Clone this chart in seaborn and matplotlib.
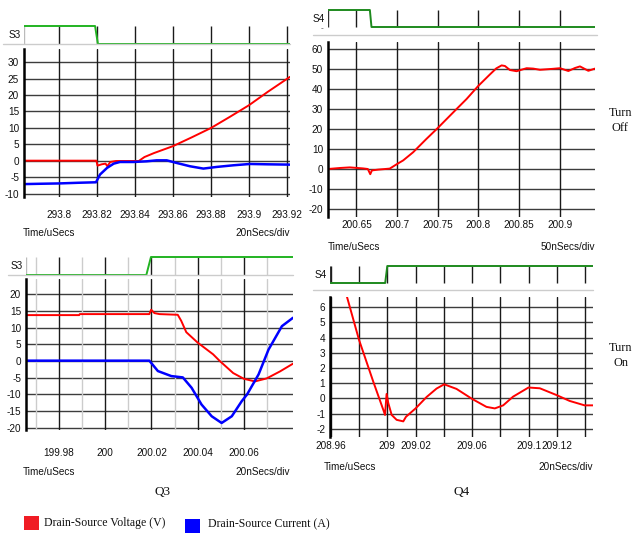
import matplotlib
matplotlib.use("Agg")
import matplotlib.pyplot as plt
import seaborn as sns
from matplotlib.lines import Line2D
from matplotlib.patches import Rectangle

# ---------------- data ----------------
# Q3 turn-off
q3off_v_t = [293.7816, 293.8197, 293.8203, 293.8225, 293.8245, 293.8255, 293.8270, 293.8300,
             293.8420, 293.8450, 293.8500, 293.8600, 293.8700, 293.8800, 293.8900, 293.9000,
             293.9100, 293.9216]
q3off_v = [0.1, 0.1, -1.4, -1.0, -0.8, -1.6, -0.3, 0.0,
           0.0, 1.2, 2.4, 4.5, 7.2, 10.0, 13.4, 16.9, 21.0, 25.5]
q3off_i_t = [293.7816, 293.7900, 293.8000, 293.8100, 293.8195, 293.8216, 293.8253, 293.8288,
             293.8321, 293.8391, 293.8460, 293.8514, 293.8567, 293.8620, 293.8690, 293.8760,
             293.8830, 293.8918, 293.9005, 293.9093, 293.9216]
q3off_i = [-7.0, -6.9, -6.8, -6.6, -6.45, -4.1, -2.1, -0.8,
           -0.3, -0.3, -0.1, 0.2, 0.2, -0.6, -1.6, -2.3,
           -1.8, -1.3, -0.9, -1.0, -1.1]
s3off_t = [293.7816, 293.8190, 293.8205, 293.9216]
s3off = [1, 1, 0, 0]

# Q4 turn-off
q4off_v_t = [200.615, 200.6295, 200.6418, 200.658, 200.664, 200.667, 200.669, 200.677,
             200.691, 200.700, 200.7075, 200.7198, 200.736, 200.7498, 200.761, 200.7732,
             200.7855, 200.7998, 200.814, 200.822, 200.8286, 200.8327, 200.8388, 200.847,
             200.8594, 200.8675, 200.8758, 200.8922, 200.9004, 200.9107, 200.9189, 200.925,
             200.9353, 200.9435]
q4off_v = [0.0, 0.5, 0.8, 0.3, 0.0, -2.6, -0.7, -0.3,
           0.2, 2.5, 4.3, 8.4, 15.0, 20.4, 25.0, 30.0,
           35.0, 41.5, 47.2, 50.3, 51.8, 51.5, 49.5, 48.9,
           50.4, 50.2, 49.6, 50.1, 50.4, 49.0, 50.5, 51.3,
           49.1, 50.2]
s4off_t = [200.615, 200.6665, 200.6685, 200.9435]
s4off = [1, 1, 0, 0]

# Q3 turn-on
q3on_v_t = [199.9657, 199.9887, 199.9890, 200.0191, 200.0199, 200.0213, 200.0235, 200.0314,
            200.0329, 200.0351, 200.0400, 200.0467, 200.0496, 200.0554, 200.0600, 200.0648,
            200.0699, 200.0757, 200.0813]
q3on_v = [13.7, 13.7, 14.0, 14.0, 15.3, 14.3, 14.0, 13.8,
          12.0, 8.6, 5.5, 2.0, 0.0, -3.6, -5.3, -6.1,
          -5.2, -3.1, -0.8]
q3on_i_t = [199.9657, 200.0191, 200.0228, 200.0286, 200.0336, 200.0374, 200.0417, 200.0461,
            200.0504, 200.0548, 200.0591, 200.0614, 200.0664, 200.0707, 200.0765, 200.0813]
q3on_i = [0.1, 0.1, -3.0, -4.5, -4.9, -8.0, -13.0, -16.5,
          -18.5, -16.5, -12.0, -10.0, -4.0, 3.4, 10.4, 12.9]
s3on_t = [199.9657, 200.0178, 200.0198, 200.0813]
s3on = [0, 0, 1, 1]

# Q4 turn-on
q4on_v_t = [208.9708, 208.9800, 208.9901, 208.9972, 208.9984, 208.9995, 209.0007, 209.0031,
            209.0066, 209.0113, 209.0132, 209.0200, 209.0278, 209.0348, 209.0402, 209.0489,
            209.0600, 209.0701, 209.0760, 209.0819, 209.0889, 209.0998, 209.1078, 209.1195,
            209.1289, 209.1395, 209.1454]
q4on_v = [6.9, 3.85, 1.1, -0.75, -1.08, 0.3, -0.3, -1.08,
          -1.4, -1.5, -1.2, -0.65, 0.1, 0.65, 0.93, 0.63,
          -0.03, -0.55, -0.65, -0.45, 0.12, 0.72, 0.67, 0.23,
          -0.16, -0.45, -0.45]
s4on_t = [208.96, 208.9985, 209.0, 209.1454]
s4on = [0, 0, 1, 1]

# axis ticks and labels
p1_xticks = [293.80, 293.82, 293.84, 293.86, 293.88, 293.90, 293.92]
p1_xlabels = ["293.8", "293.82", "293.84", "293.86", "293.88", "293.9", "293.92"]
p1_yticks = [-10, -5, 0, 5, 10, 15, 20, 25, 30]

p2_xticks = [200.65, 200.70, 200.75, 200.80, 200.85, 200.90]
p2_xlabels = ["200.65", "200.7", "200.75", "200.8", "200.85", "200.9"]
p2_yticks = [-20, -10, 0, 10, 20, 30, 40, 50, 60]

p3_xticks = [199.98, 200.00, 200.02, 200.04, 200.06]
p3_xlabels = ["199.98", "200", "200.02", "200.04", "200.06"]
p3_xminor = [199.97, 199.99, 200.01, 200.03, 200.05, 200.07]
p3_yticks = [-20, -15, -10, -5, 0, 5, 10, 15, 20]

p4_xticks = [208.96, 208.98, 209.00, 209.02, 209.04, 209.06, 209.08, 209.10, 209.12, 209.14]
p4_xlabels = ["208.96", "", "209", "209.02", "", "209.06", "", "209.1", "209.12", ""]
p4_yticks = [-2, -1, 0, 1, 2, 3, 4, 5, 6]

legend_labels = ["Drain-Source Voltage (V)", "Drain-Source Current (A)"]

# ---------------- style ----------------
sns.set_theme(style="white")
plt.rcParams['font.family'] = ['Liberation Sans', 'DejaVu Sans']
plt.rcParams['axes.unicode_minus'] = False

RED = "#ff0000"
BLUE = "#0000ff"
GREEN_A = "#22b322"
GREEN_B = "#1e8a1e"
HGRID = "#3c3c3c"
VGRID = "#1a1a1a"
LIGHT = "#cccccc"
TXT = "#111111"
SERIF = ['Liberation Serif', 'DejaVu Serif']

W, H = 635, 533
fig = plt.figure(figsize=(W / 100, H / 100), dpi=100)


def rect(x0, y0, x1, y1):
    return [x0 / W, 1 - y1 / H, (x1 - x0) / W, (y1 - y0) / H]


def ftext(x, y, s, ha="left", va="center", **kw):
    fig.text(x / W, 1 - y / H, s, ha=ha, va=va, **kw)


def fline(x0, x1, y, color=LIGHT, lw=1.0):
    fig.add_artist(Line2D([x0 / W, x1 / W], [1 - y / H, 1 - y / H],
                          transform=fig.transFigure, color=color, lw=lw))


def main_axes(x0, x1, ytop, ybot, xlim, ylim, xticks, xlabels, yticks,
              tick_gap=0, tick_len=0, tick_color="#888888", label_pad=2.0, minor=None):
    ax = fig.add_axes(rect(x0, ytop, x1, ybot))
    ax.set_facecolor("white")
    for side in ["top", "right", "bottom"]:
        ax.spines[side].set_visible(False)
    ax.spines["left"].set_color("black")
    ax.spines["left"].set_linewidth(1.8)
    ax.spines["bottom"].set_position(("outward", tick_gap))
    for y in yticks:
        ax.axhline(y, color=HGRID, lw=1.0, zorder=0)
    for x in xticks:
        ax.axvline(x, color=VGRID, lw=1.0, zorder=0)
    if minor:
        for x in minor:
            ax.axvline(x, color=LIGHT, lw=1.0, zorder=0)
        ax.set_xticks(minor, minor=True)
        ax.tick_params(axis="x", which="minor", length=tick_len * 0.7, width=1,
                       color=LIGHT, direction="out")
    ax.set_xticks(xticks, xlabels)
    ax.set_yticks(yticks, [str(v) for v in yticks])
    ax.tick_params(axis="x", which="major", length=tick_len, width=1, color=tick_color,
                   pad=label_pad, labelsize=7.2, labelcolor=TXT, direction="out")
    ax.tick_params(axis="y", length=3, width=1, color="black", pad=0.5,
                   labelsize=7.2, labelcolor=TXT, direction="out")
    return ax


def strip_axes(x0, x1, yhigh, ylow, xlim, t, s, xticks, color, name,
               edge_color="#999999", minor=None):
    pad = 2
    span = ylow - yhigh
    ax = fig.add_axes(rect(x0, yhigh - pad, x1, ylow + pad))
    ax.set_facecolor("none")
    ax.axis("off")
    ax.vlines(xticks, 0, 1, color=VGRID, lw=1.0, zorder=0)
    if minor:
        ax.vlines(minor, 0, 1, color=LIGHT, lw=1.0, zorder=0)
    ax.vlines([xlim[0]], 0, 1, color=edge_color, lw=1.0, zorder=0)
    sns.lineplot(x=t, y=s, ax=ax, color=color, lw=1.4, estimator=None, sort=False)
    ax.set_xlim(*xlim)
    ax.set_ylim(-pad / span, 1 + pad / span)
    ax.text(-0.012, 0.5, name, transform=ax.transAxes, ha="right", va="center",
            fontsize=7.2, color=TXT)
    return ax


# ---------------- panel 1: Q3 turn-off ----------------
xl1 = (293.7816, 293.9216)
fline(3, 290, 44)
strip_axes(24, 290, 26, 44, xl1, s3off_t, s3off, p1_xticks, GREEN_A, "S3",
           edge_color="#bbbbbb")
ax1 = main_axes(24, 290, 49, 197, xl1, (-10.91, 33.94), p1_xticks, p1_xlabels, p1_yticks,
                tick_gap=4, tick_len=4, tick_color="#999999", label_pad=1.5)
sns.lineplot(x=q3off_v_t, y=q3off_v, ax=ax1, color=RED, lw=1.4, estimator=None, sort=False)
sns.lineplot(x=q3off_i_t, y=q3off_i, ax=ax1, color=BLUE, lw=1.8, estimator=None, sort=False)
ax1.set_xlim(*xl1)
ax1.set_ylim(-10.91, 33.94)
ax1.set_xlabel("")
ax1.set_ylabel("")
ftext(23, 233, "Time/uSecs", fontsize=7.2, color=TXT)
ftext(290, 233, "20nSecs/div", ha="right", fontsize=7.2, color=TXT)

# ---------------- panel 2: Q4 turn-off ----------------
xl2 = (200.615, 200.9435)
fline(313, 597, 35)
strip_axes(328, 595, 10, 27, xl2, s4off_t, s4off, p2_xticks, GREEN_B, "S4",
           edge_color="#333333")
ftext(322, 29, "-", ha="center", fontsize=6, color="#444444")
ax2 = main_axes(328, 595, 42, 217, xl2, (-24, 63.5), p2_xticks, p2_xlabels, p2_yticks,
                tick_gap=0, tick_len=0, label_pad=2.0)
sns.lineplot(x=q4off_v_t, y=q4off_v, ax=ax2, color=RED, lw=1.4, estimator=None, sort=False)
ax2.set_xlim(*xl2)
ax2.set_ylim(-24, 63.5)
ax2.set_xlabel("")
ax2.set_ylabel("")
ftext(328, 247, "Time/uSecs", fontsize=7.2, color=TXT)
ftext(595, 247, "50nSecs/div", ha="right", fontsize=7.2, color=TXT)
ftext(609, 113, "Turn", fontsize=8.8, family=SERIF, color=TXT)
ftext(611, 128, "Off", fontsize=8.8, family=SERIF, color=TXT)

# ---------------- panel 3: Q3 turn-on ----------------
xl3 = (199.9657, 200.0813)
fline(8, 293, 275)
strip_axes(26, 293, 257, 275, xl3, s3on_t, s3on, p3_xticks, GREEN_A, "S3",
           edge_color="#bbbbbb", minor=p3_xminor)
ax3 = main_axes(26, 293, 279, 430, xl3, (-20.6, 24.48), p3_xticks, p3_xlabels, p3_yticks,
                tick_gap=6, tick_len=6, tick_color="#222222", label_pad=1.0, minor=p3_xminor)
sns.lineplot(x=q3on_v_t, y=q3on_v, ax=ax3, color=RED, lw=1.4, estimator=None, sort=False)
sns.lineplot(x=q3on_i_t, y=q3on_i, ax=ax3, color=BLUE, lw=1.8, estimator=None, sort=False)
ax3.set_xlim(*xl3)
ax3.set_ylim(-20.6, 24.48)
ax3.set_xlabel("")
ax3.set_ylabel("")
ftext(23, 472, "Time/uSecs", fontsize=7.2, color=TXT)
ftext(290, 472, "20nSecs/div", ha="right", fontsize=7.2, color=TXT)
ftext(162, 492, "Q3", ha="center", fontsize=9.5, family=SERIF, color=TXT)

# ---------------- panel 4: Q4 turn-on ----------------
xl4 = (208.9595, 209.1454)
fline(313, 593, 290)
strip_axes(330, 593, 266, 283, xl4, s4on_t, s4on, p4_xticks, GREEN_B, "S4",
           edge_color="#333333")
ax4 = main_axes(330, 593, 297, 437, xl4, (-2.525, 6.656), p4_xticks, p4_xlabels, p4_yticks,
                tick_gap=0, tick_len=0, label_pad=3.0)
sns.lineplot(x=q4on_v_t, y=q4on_v, ax=ax4, color=RED, lw=1.4, estimator=None, sort=False)
ax4.set_xlim(*xl4)
ax4.set_ylim(-2.525, 6.656)
ax4.set_xlabel("")
ax4.set_ylabel("")
ftext(324, 467, "Time/uSecs", fontsize=7.2, color=TXT)
ftext(593, 467, "20nSecs/div", ha="right", fontsize=7.2, color=TXT)
ftext(462, 492, "Q4", ha="center", fontsize=9.5, family=SERIF, color=TXT)
ftext(609, 348, "Turn", fontsize=8.8, family=SERIF, color=TXT)
ftext(613, 363, "On", fontsize=8.8, family=SERIF, color=TXT)

# ---------------- legend ----------------
fig.add_artist(Rectangle((24 / W, 1 - 530 / H), 15 / W, 14 / H, transform=fig.transFigure,
                         facecolor="#f01c24", edgecolor="none"))
ftext(44, 523, legend_labels[0], fontsize=8.5, family=SERIF, color=TXT)
fig.add_artist(Rectangle((185 / W, 1 - 532.5 / H), 15 / W, 14 / H, transform=fig.transFigure,
                         facecolor=BLUE, edgecolor="none"))
ftext(208, 524.5, legend_labels[1], fontsize=8.5, family=SERIF, color=TXT)

fig.savefig("out.png", dpi=100, facecolor="white")
